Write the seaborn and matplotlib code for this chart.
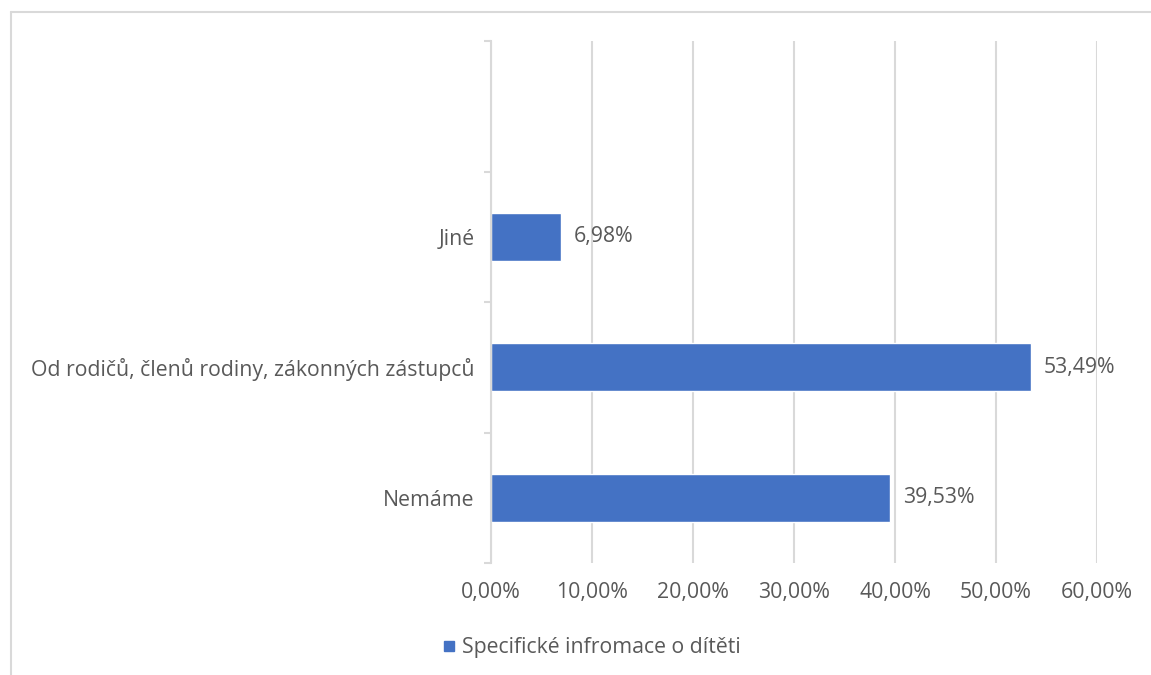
import matplotlib
matplotlib.use("Agg")
import matplotlib.pyplot as plt
import seaborn as sns
import pandas as pd
from matplotlib.lines import Line2D
from matplotlib.ticker import FixedLocator, FuncFormatter

categories = ["Jiné", "Od rodičů, členů rodiny, zákonných zástupců", "Nemáme"]
values = [6.98, 53.49, 39.53]
series_name = "Specifické infromace o dítěti"
x_ticks = [0, 10, 20, 30, 40, 50, 60]

df = pd.DataFrame({"kategorie": categories, "podil": values, "serie": series_name})

sns.set_theme(style="white")
plt.rcParams["font.family"] = ["Open Sans", "DejaVu Sans"]

text_color = "#595959"
grid_color = "#d9d9d9"
bar_color = "#4472C4"
fs = 15.3

fig = plt.figure(figsize=(11.51, 6.75), dpi=100)
ax = fig.add_axes([491 / 1151, 1 - 563 / 675, (1097 - 491) / 1151, (563 - 41) / 675])

sns.barplot(data=df, x="podil", y="kategorie", hue="serie", order=categories,
            palette=[bar_color], orient="h", width=0.37, ax=ax, legend=True,
            saturation=1)

ax.set_xlim(0, 60)
ax.set_ylim(2.5, -1.5)
ax.xaxis.set_major_locator(FixedLocator(x_ticks))
ax.xaxis.set_major_formatter(FuncFormatter(lambda v, p: f"{v:.2f}%".replace(".", ",")))
ax.grid(axis="x", color=grid_color, linewidth=1.5)
ax.set_axisbelow(True)

for s in ["top", "right", "bottom"]:
    ax.spines[s].set_visible(False)
ax.spines["left"].set_color(grid_color)
ax.spines["left"].set_linewidth(1.5)

ax.set_xlabel("")
ax.set_ylabel("")
ax.tick_params(axis="x", length=0, pad=14, labelsize=fs, labelcolor=text_color)
ax.tick_params(axis="y", which="major", length=0, pad=12, labelsize=fs, labelcolor=text_color)
ax.yaxis.set_minor_locator(FixedLocator([-1.5, -0.5, 0.5, 1.5, 2.5]))
ax.tick_params(axis="y", which="minor", length=5, width=1.5, color=grid_color, left=True)

for cont in ax.containers:
    ax.bar_label(cont, labels=[f"{v:.2f}%".replace(".", ",") for v in values],
                 padding=9, fontsize=fs, color=text_color)

ax.legend(handles=[Line2D([], [], marker="s", linestyle="", markersize=7,
                          color=bar_color, label=series_name)],
          loc="center", bbox_to_anchor=(0.512, 0.040), bbox_transform=fig.transFigure,
          frameon=False, fontsize=fs, labelcolor=text_color, handletextpad=0.1,
          handlelength=1.0)

# chart-area frame along the top and left edges
fig.add_artist(Line2D([11 / 1151, 11 / 1151], [1 - 12 / 675, 0], transform=fig.transFigure,
                      color=grid_color, linewidth=1.5))
fig.add_artist(Line2D([11 / 1151, 1], [1 - 12 / 675, 1 - 12 / 675], transform=fig.transFigure,
                      color=grid_color, linewidth=1.5))

fig.savefig("out.png", dpi=100)
